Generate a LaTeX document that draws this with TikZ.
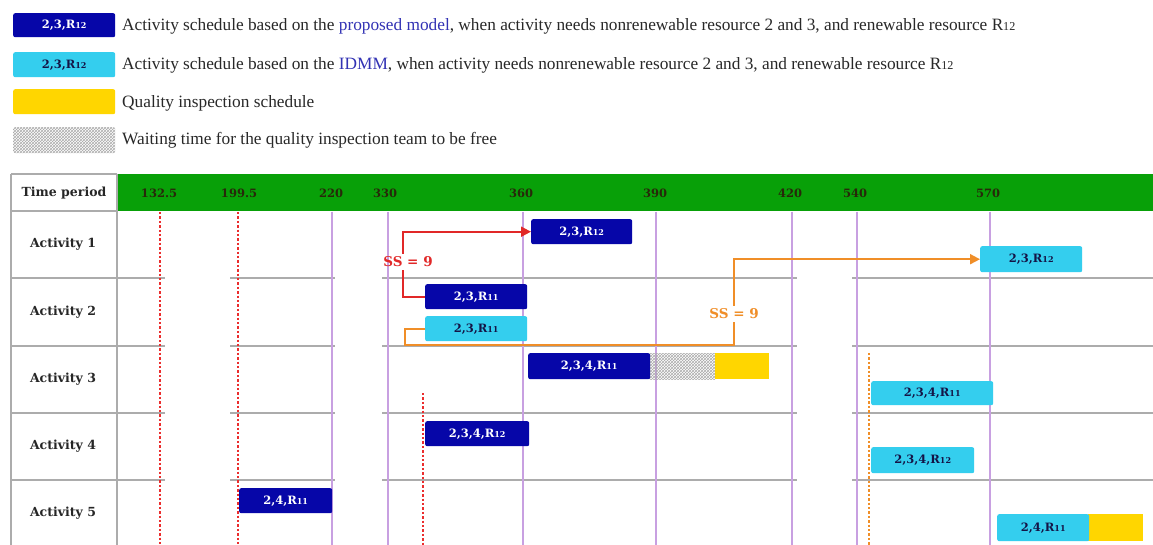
\documentclass[tikz,border=0pt]{standalone}
\usepackage{fontspec}
\usepackage{graphicx}
\setmainfont{Liberation Serif}
\newfontfamily\dvs{DejaVu Serif}
\usetikzlibrary{arrows.meta,patterns}
\definecolor{dblue}{RGB}{6,6,168}
\definecolor{cbar}{RGB}{52,206,238}
\definecolor{qyel}{RGB}{255,214,0}
\definecolor{hgreen}{RGB}{8,160,8}
\definecolor{vpurp}{RGB}{200,160,225}
\definecolor{glin}{RGB}{172,172,172}
\definecolor{rred}{RGB}{225,40,40}
\definecolor{dred}{RGB}{235,45,45}
\definecolor{oorg}{RGB}{240,142,40}
\definecolor{lblue}{RGB}{50,50,180}
\definecolor{ctext}{RGB}{20,20,70}
\definecolor{htext}{RGB}{40,40,10}
\definecolor{ltext}{RGB}{40,40,40}
\newcommand{\Rs}[1]{R\scalebox{0.7}{#1}}
\begin{document}
\begin{tikzpicture}[x=1pt,y=-1pt,
  barfont/.style={font=\dvs\bfseries\fontsize{11.5}{12}\selectfont},
  dbar/.style={barfont,fill=dblue,text=white,rounded corners=2pt,inner sep=0pt,anchor=north west},
  cybar/.style={barfont,fill=cbar,text=ctext,rounded corners=2pt,inner sep=0pt,anchor=north west},
  qbar/.style={fill=qyel,inner sep=0pt,anchor=north west},
  wbar/.style={fill=gray!25,pattern=crosshatch,pattern color=gray!65,inner sep=0pt,anchor=north west},
  legtext/.style={font=\fontsize{17.3}{18}\selectfont,text=ltext,anchor=base west,inner sep=0pt},
  hdr/.style={font=\dvs\bfseries\fontsize{11.5}{12}\selectfont,text=htext,inner sep=0pt},
  actlbl/.style={font=\dvs\bfseries\fontsize{12.5}{13}\selectfont,text=black!85,inner sep=0pt},
  gridg/.style={draw=glin,line width=1.5pt},
  gridv/.style={draw=vpurp,line width=1.4pt},
  rdash/.style={draw=dred,line width=2.4pt,dash pattern=on 2.4pt off 2pt},
  odash/.style={draw=oorg,line width=2.2pt,dash pattern=on 2.4pt off 2pt},
  sslbl/.style={font=\dvs\bfseries\fontsize{13.5}{14}\selectfont,inner sep=3pt},
  rconn/.style={draw=rred,line width=1.8pt},
  oconn/.style={draw=oorg,line width=1.8pt}
]
\useasboundingbox (0,0) rectangle (1153,545);
\fill[white] (0,0) rectangle (1153,545);

% ---------- legend ----------
\node[dbar,minimum width=102pt,minimum height=24pt] (lg1) at (13,13) {2,3,\Rs{12}};
\node[cybar,minimum width=102pt,minimum height=25pt] (lg2) at (13,52) {2,3,\Rs{12}};
\node[qbar,minimum width=102pt,minimum height=25pt,rounded corners=2pt] (lg3) at (13,89) {};
\node[wbar,minimum width=102pt,minimum height=26pt,rounded corners=2pt] (lg4) at (13,127) {};
\node[legtext] (lt1) at (122,30.5) {Activity schedule based on the \textcolor{lblue}{proposed model}, when activity needs nonrenewable resource 2 and 3, and renewable resource \Rs{12}};
\node[legtext] (lt2) at (122,69.5) {Activity schedule based on the \textcolor{lblue}{IDMM}, when activity needs nonrenewable resource 2 and 3, and renewable resource \Rs{12}};
\node[legtext] (lt3) at (122,107.5) {Quality inspection schedule};
\node[legtext] (lt4) at (122,145) {Waiting time for the quality inspection team to be free};

% ---------- table frame ----------
\fill[hgreen] (117,174) rectangle (1153,211);
\draw[gridg] (11,174) -- (117,174);
\draw[gridg] (11,211) -- (117,211);
\draw[gridg] (11,174) -- (11,545);
\draw[gridg] (117,174) -- (117,545);
\foreach \yy in {278,346,413,480}{
  \draw[gridg] (11,\yy) -- (165,\yy);
  \draw[gridg] (230,\yy) -- (335,\yy);
  \draw[gridg] (382,\yy) -- (797,\yy);
  \draw[gridg] (852,\yy) -- (1153,\yy);
}
\foreach \xx in {332,388,523,656,792,857,990}{
  \draw[gridv] (\xx,211.7) -- (\xx,545);
}
\draw[rdash] (160,212) -- (160,545);
\draw[rdash] (238,212) -- (238,545);
\draw[rdash] (423,393) -- (423,545);
\draw[odash] (869,353) -- (869,545);

% ---------- header ----------
\node[hdr,font=\dvs\bfseries\fontsize{12.5}{13}\selectfont,text=black!85] (tp) at (64,193) {Time period};
\node[hdr] (h1) at (159,193) {132.5};
\node[hdr] (h2) at (239,193) {199.5};
\node[hdr] (h3) at (331,193) {220};
\node[hdr] (h4) at (385,193) {330};
\node[hdr] (h5) at (521,193) {360};
\node[hdr] (h6) at (655,193) {390};
\node[hdr] (h7) at (790,193) {420};
\node[hdr] (h8) at (855,193) {540};
\node[hdr] (h9) at (988,193) {570};

\node[actlbl] (r1) at (63,244.5) {Activity 1};
\node[actlbl] (r2) at (63,312) {Activity 2};
\node[actlbl] (r3) at (63,379.5) {Activity 3};
\node[actlbl] (r4) at (63,446.5) {Activity 4};
\node[actlbl] (r5) at (63,513) {Activity 5};

% ---------- bars ----------
\node[dbar,minimum width=101pt,minimum height=25pt] (a1p) at (531,219) {2,3,\Rs{12}};
\node[cybar,minimum width=102pt,minimum height=26pt] (a1i) at (980,246) {2,3,\Rs{12}};
\node[dbar,minimum width=102pt,minimum height=25pt] (a2p) at (425,284) {2,3,\Rs{11}};
\node[cybar,minimum width=102pt,minimum height=25pt] (a2i) at (425,316) {2,3,\Rs{11}};
\node[wbar,minimum width=66pt,minimum height=26pt] (a3w) at (649,353) {};
\node[qbar,minimum width=54pt,minimum height=26pt] (a3q) at (715,353) {};
\node[dbar,minimum width=122pt,minimum height=26pt] (a3p) at (528,353) {2,3,4,\Rs{11}};
\node[cybar,minimum width=122pt,minimum height=24pt] (a3i) at (871,381) {2,3,4,\Rs{11}};
\node[dbar,minimum width=104pt,minimum height=25pt] (a4p) at (425,421) {2,3,4,\Rs{12}};
\node[cybar,minimum width=103pt,minimum height=26pt] (a4i) at (871,447) {2,3,4,\Rs{12}};
\node[dbar,minimum width=93pt,minimum height=25pt] (a5p) at (239,488) {2,4,\Rs{11}};
\node[qbar,minimum width=55pt,minimum height=27pt] (a5q) at (1088,514) {};
\node[cybar,minimum width=92pt,minimum height=27pt] (a5i) at (997,514) {2,4,\Rs{11}};

% ---------- connectors ----------
\node[sslbl,text=rred] (ss1) at (408,262) {SS = 9};
\node[sslbl,text=oorg] (ss2) at (734,314) {SS = 9};
\coordinate (o1) at (405,345);
\draw[rconn] (a2p.west) -| ([xshift=-5pt]ss1.south);
\draw[rconn,-{Triangle[length=10pt,width=10pt]}] ([xshift=-5pt]ss1.north) |- (a1p.west);
\draw[oconn] (a2i.west) -| (o1) -| (ss2.south);
\draw[oconn,-{Triangle[length=10pt,width=10pt]}] (ss2.north) |- (a1i.west);
\end{tikzpicture}
\end{document}
